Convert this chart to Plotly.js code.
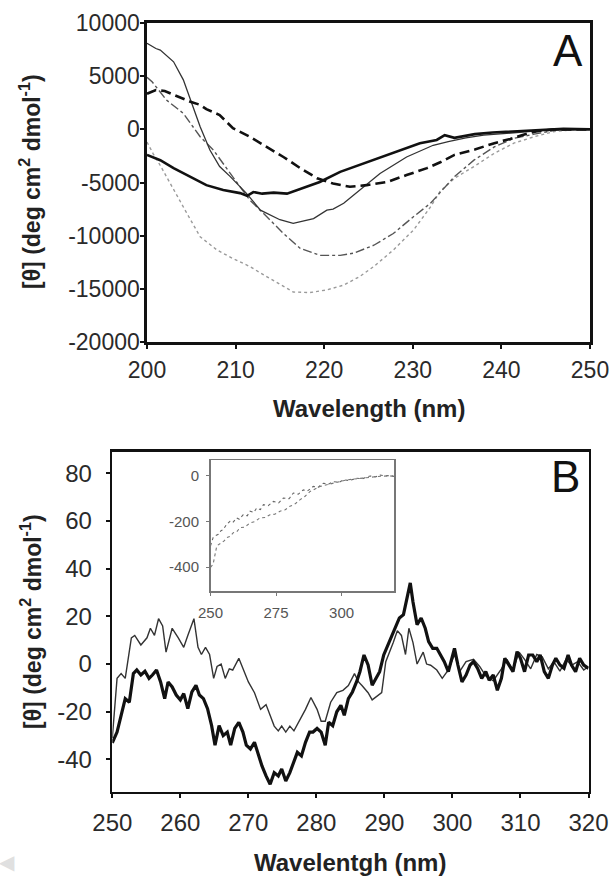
<!DOCTYPE html>
<html>
<head>
<meta charset="utf-8">
<script src="https://cdn.plot.ly/plotly-3.0.1.min.js"></script>
<style>html,body{margin:0;padding:0;background:#fff;}#chart{width:613px;height:878px;}</style>
</head>
<body>
<div id="chart"></div>
<script>
// ---------- Panel A data: [wavelength (nm), [theta]] ----------
const aThin = [[200,8100],[201,7600],[201.5,7450],[203,6350],[204.1,4650],[204.9,2750],[206,250],[207.1,-1950],[208.2,-3500],[209.4,-4450],[211.2,-6000],[212.8,-7600],[215,-8500],[216.5,-8850],[217.5,-8650],[218.8,-8400],[220.3,-7600],[221,-7500],[222.2,-6950],[224,-5700],[226.3,-4150],[229.3,-2600],[232.3,-1500],[234,-1150],[236,-800],[238,-550],[241.4,-350],[244,-150],[247,-50],[250,0]];
const aThick = [[200,-2400],[201.5,-2900],[203,-3650],[204.9,-4450],[206.7,-5250],[208.6,-5700],[210.5,-6000],[211.3,-6250],[212,-5900],[213,-6050],[214.3,-5950],[215.8,-6050],[217.6,-5550],[219.5,-4950],[221.8,-4000],[224,-3350],[226.3,-2600],[228.6,-1950],[230.8,-1300],[232.7,-1000],[233.6,-550],[234.7,-800],[237,-450],[239,-300],[241,-200],[243,-100],[245,0],[247,50],[250,0]];
const aDash = [[200,3350],[201,3700],[202,3600],[203,3250],[204.9,2600],[206,2300],[206.7,1900],[208.2,1350],[209.7,100],[211.6,-700],[213.5,-1650],[215.4,-2600],[217.3,-3650],[219.2,-4600],[221,-5100],[222.9,-5400],[224.8,-5250],[227.1,-4950],[229.3,-4300],[231.6,-3650],[233.1,-3100],[234.7,-2400],[237,-1900],[239.2,-1300],[241,-900],[242.3,-550],[243.9,-200],[246,0],[250,0]];
const aDashDot = [[200,4900],[200.6,4450],[202.2,2750],[204.1,1500],[206,-700],[207.5,-1950],[209.4,-4150],[211.6,-6650],[213.5,-8200],[215.4,-9800],[217.3,-11200],[219.5,-11850],[221.8,-11850],[223.3,-11650],[225.6,-10900],[227.8,-9800],[230.1,-8200],[232,-6950],[234.7,-4450],[236.9,-2900],[239.2,-1650],[241.4,-850],[243.7,-450],[246,-100],[250,0]];
const aDot = [[200,-1200],[200.7,-2300],[201.5,-3400],[203,-5700],[204.5,-7900],[206,-10100],[207.9,-11350],[209.7,-12150],[211.6,-12900],[213.5,-13850],[215.4,-14800],[216.5,-15300],[218.4,-15350],[220.3,-15100],[222.2,-14650],[224,-13850],[225.6,-12900],[227.8,-11350],[230.1,-9450],[232,-7300],[233.1,-5800],[234.7,-4600],[236.9,-3500],[239.2,-2250],[241.4,-1300],[243.7,-700],[246,-200],[248,-50],[250,0]];

// ---------- Panel B data ----------
const bThin = [[250,-31],[250.7,-6],[251.3,-4],[251.9,-6],[252.8,11],[253.3,12],[254.2,8],[255.1,11],[255.6,15],[256.2,12],[256.8,19],[257.4,16],[257.9,5],[258.8,15],[259.7,11],[260.5,7],[261.1,12],[262,19],[262.6,7],[263.1,4],[263.7,7],[264.3,4],[264.9,-6],[265.4,-1],[266,0],[266.6,-6],[267.2,-2],[267.7,-2.5],[268.6,2.4],[269.2,-2],[270,-7.5],[270.9,-12],[271.8,-19],[272.6,-17],[273.2,-21.5],[273.8,-26],[274.4,-28],[274.9,-26],[275.5,-28.5],[276.1,-26],[276.7,-28],[277.5,-24],[278.4,-19],[279.2,-14],[280.1,-19],[280.7,-24],[281.3,-24],[282.1,-16],[283,-12],[283.9,-11],[284.7,-9],[285.6,-4],[286.2,-7.5],[286.7,-9],[287.6,-12],[288.2,-15],[288.7,-14],[289.6,-12],[290.2,1],[290.8,5],[291.3,9],[291.9,14],[292.5,12],[293.1,4],[293.6,15],[294.2,9],[294.8,0],[295.7,5],[296.2,0],[296.8,-0.5],[297.7,-2.5],[298.5,-6],[299.4,-2.5],[300.3,4],[301.1,-3],[302,1],[303.1,2],[304,-1],[304.9,-5],[306,-7],[307.2,-2],[308,2],[308.9,-2.5],[309.8,5],[310.6,2],[311.5,-2],[312.4,4],[313.2,3],[314.1,-2],[314.9,1],[315.8,-3],[316.7,2],[317.5,-0.5],[318.4,1],[319.3,-2.5],[320,-1]];
const bThick = [[250,-33],[250.7,-28.5],[251.3,-21.5],[251.9,-14.5],[252.5,-16],[253.1,-4],[253.6,-2.5],[254.2,-4.6],[254.8,-3],[255.4,-6],[255.9,-4.6],[256.5,-2.5],[257.1,-7.5],[257.7,-14.5],[258.2,-7.5],[258.8,-9.6],[259.4,-13],[260,-15],[260.5,-12.4],[261.1,-18.7],[261.7,-11.7],[262.3,-8.9],[262.8,-13],[263.4,-14.5],[264,-18.7],[264.6,-25.8],[265.1,-34],[265.7,-25.8],[266.3,-30],[266.9,-28.5],[267.4,-34],[268,-27],[268.6,-24.4],[269.2,-28.5],[269.7,-34],[270.3,-35.6],[270.9,-32.8],[271.5,-38.5],[272,-42.7],[272.6,-46.9],[273.2,-50.4],[273.8,-45.5],[274.4,-46.9],[274.9,-44],[275.5,-49],[276.1,-45.5],[276.7,-41.3],[277.2,-37],[277.8,-38.5],[278.4,-32.8],[279,-28.5],[279.5,-28.5],[280.1,-27],[280.7,-28.5],[281.3,-34],[281.8,-24.4],[282.4,-25.8],[283,-20],[283.6,-17.3],[284.1,-21.5],[284.7,-14.5],[285.3,-11.7],[285.9,-7.5],[286.4,-3.2],[287,3.8],[287.6,-0.4],[288.2,-8.9],[288.7,-6],[289.3,-3.2],[289.9,3.8],[290.5,8],[291,10.8],[291.6,15],[292.2,19.3],[292.8,20.7],[293.4,29],[293.8,34],[294.2,26],[294.8,16.5],[295.4,19.3],[296,15],[296.5,9.4],[297.1,6.6],[297.7,6.6],[298.2,3.8],[298.8,1],[299.4,-3.2],[300.3,6.6],[300.8,-0.4],[301.4,-7.5],[302,-4.6],[302.6,-0.4],[303.1,1],[303.7,-1.8],[304.3,-6],[304.9,-3.2],[305.4,-6.8],[306,-4.6],[306.6,-11],[307.2,-6],[307.7,2.4],[308.3,-0.4],[308.9,-3.2],[309.5,5.2],[310,2.4],[310.6,-3.2],[311.2,3.8],[311.8,3.8],[312.4,1],[312.9,3.8],[313.5,-3.2],[314.1,-6],[314.7,-0.4],[315.2,2.4],[315.8,-0.4],[316.4,-1.8],[317,3.8],[317.5,-0.4],[318.1,-3.2],[318.7,2.4],[319.3,-0.4],[320,-1.8]];

// ---------- Inset data ----------
const insetUpper = [[250,-307],[251,-271],[252,-262],[253,-256],[254,-240],[254.9,-235],[256,-215],[257.4,-199],[258.5,-205],[260,-184],[261,-190],[262.5,-170],[264,-175],[265.1,-155],[266.5,-160],[267.6,-141],[269,-148],[270.2,-126],[272,-130],[274,-112],[276,-118],[277.8,-97],[280,-100],[281.6,-75],[283.5,-80],[285.4,-61],[287,-66],[289.2,-46],[291,-50],[293,-32],[295,-36],[296.9,-25],[299,-28],[300.7,-17],[303,-20],[305.8,-10],[308,-12],[310.9,0],[313,-4],[314.7,4],[316.5,0],[318.5,2],[320,-2]];
const insetLower = [[250,-401],[251,-387],[252.4,-307],[253.2,-300],[254.2,-293],[255.2,-285],[256.2,-271],[257.5,-265],[258.7,-249],[260,-245],[261.3,-227],[263,-225],[265.1,-206],[267,-200],[268.9,-184],[271,-182],[272.7,-170],[274.5,-168],[276.5,-155],[278.5,-148],[280.3,-133],[282,-125],[284.2,-104],[286,-90],[288,-68],[290,-58],[291.8,-46],[294,-40],[296.9,-32],[299,-25],[302,-17],[304.5,-14],[307.1,-10],[310,-6],[312.2,-3],[315,-1],[318.5,0],[320,-1]];

// ---------- Tick labels ----------
const aXTicks = [200, 210, 220, 230, 240, 250];
const aYTicks = [10000, 5000, 0, -5000, -10000, -15000, -20000];
const aYLabels = ['10000', '5000', '0', '-5000', '-10000', '-15000', '-20000'];
const bXTicks = [250, 260, 270, 280, 290, 300, 310, 320];
const bYTicks = [80, 60, 40, 20, 0, -20, -40];
const bYLabels = ['80', '60', '40', '20', '0', '-20', '-40'];
const inXTicks = [250, 275, 300];
const inYTicks = [0, -200, -400];
const inYLabels = ['0', '-200', '-400'];

const W = 613, H = 878;
const xd = (a, b) => [a / W, b / W];
const yd = (top, bot) => [1 - bot / H, 1 - top / H];
const xs = p => p.map(d => d[0]);
const ys = p => p.map(d => d[1]);

function tr(pts, xa, ya, color, width, dash) {
  return {x: xs(pts), y: ys(pts), xaxis: xa, yaxis: ya, type: 'scatter', mode: 'lines',
          line: {color: color, width: width, dash: dash || 'solid', shape: 'linear'}, hoverinfo: 'skip'};
}

const data = [
  tr(aDot, 'x', 'y', '#9a9a9a', 1.4, 'dot'),
  tr(aDashDot, 'x', 'y', '#555555', 1.4, 'dashdot'),
  tr(aThin, 'x', 'y', '#333333', 1.3),
  tr(aDash, 'x', 'y', '#111111', 2.6, '10px,5px'),
  tr(aThick, 'x', 'y', '#111111', 2.6),
  tr(bThin, 'x2', 'y2', '#333333', 1.4),
  tr(bThick, 'x2', 'y2', '#111111', 3.2),
  tr(insetUpper, 'x3', 'y3', '#666666', 1.1, 'dot'),
  tr(insetLower, 'x3', 'y3', '#777777', 1.1, 'dot')
];

const tickFontA = {family: 'Liberation Sans, Arial, sans-serif', size: 23, color: '#2a2a2a'};
const tickFontB = {family: 'Liberation Sans, Arial, sans-serif', size: 24, color: '#2a2a2a'};
const common = {showline: true, mirror: true, linewidth: 2.6, linecolor: '#111', showgrid: false,
                zeroline: false, ticks: 'outside', ticklen: 4, tickwidth: 2, tickcolor: '#111', fixedrange: true};

const layout = {
  width: W, height: H, margin: {l: 0, r: 0, t: 0, b: 0},
  paper_bgcolor: '#fff', plot_bgcolor: '#fff', showlegend: false,
  font: {family: 'Liberation Sans, Arial, sans-serif', color: '#222'},
  xaxis: Object.assign({}, common, {domain: xd(147, 590), anchor: 'y', range: [200, 250],
    tickmode: 'array', tickvals: aXTicks, tickfont: tickFontA, ticklabelstandoff: 2}),
  yaxis: Object.assign({}, common, {domain: yd(23, 342), anchor: 'x', range: [-20000, 10000],
    tickmode: 'array', tickvals: aYTicks, ticktext: aYLabels, tickfont: tickFontA, ticklabelstandoff: -4}),
  xaxis2: Object.assign({}, common, {domain: xd(112.3, 588.5), anchor: 'y2', range: [250, 320],
    tickmode: 'array', tickvals: bXTicks, tickfont: tickFontB, ticklabelstandoff: 4}),
  yaxis2: Object.assign({}, common, {domain: yd(451.7, 791.7), anchor: 'x2', range: [-53.5, 89],
    tickmode: 'array', tickvals: bYTicks, ticktext: bYLabels, tickfont: tickFontB, ticklabelstandoff: 9}),
  xaxis3: {domain: xd(210.5, 394), anchor: 'y3', range: [250, 320], showline: true, mirror: true,
    linewidth: 1.5, linecolor: '#777', showgrid: false, zeroline: false, ticks: 'outside', ticklen: 3,
    tickwidth: 1, tickcolor: '#777', tickmode: 'array', tickvals: inXTicks, fixedrange: true,
    tickfont: {family: 'Liberation Sans, Arial, sans-serif', size: 15, color: '#555'}, ticklabelstandoff: 4},
  yaxis3: {domain: yd(460, 591), anchor: 'x3', range: [-505, 70], showline: true, mirror: true,
    linewidth: 1.5, linecolor: '#777', showgrid: false, zeroline: false, ticks: 'outside', ticklen: 3,
    tickwidth: 1, tickcolor: '#777', tickmode: 'array', tickvals: inYTicks, ticktext: inYLabels, fixedrange: true,
    tickfont: {family: 'Liberation Sans, Arial, sans-serif', size: 15, color: '#555'}, ticklabelstandoff: 4},
  annotations: [
    {text: 'A', xref: 'paper', yref: 'paper', x: 568 / W, y: 1 - 50 / H, showarrow: false,
     xanchor: 'center', yanchor: 'middle', font: {size: 44, color: '#111'}},
    {text: 'B', xref: 'paper', yref: 'paper', x: 565 / W, y: 1 - 477 / H, showarrow: false,
     xanchor: 'center', yanchor: 'middle', font: {size: 44, color: '#111'}},
    {text: '<b>Wavelength (nm)</b>', xref: 'paper', yref: 'paper', x: 369 / W, y: 1 - 408 / H,
     showarrow: false, xanchor: 'center', yanchor: 'middle', font: {size: 24, color: '#222'}},
    {text: '<b>Wavelentgh (nm)</b>', xref: 'paper', yref: 'paper', x: 350 / W, y: 1 - 862 / H,
     showarrow: false, xanchor: 'center', yanchor: 'middle', font: {size: 24, color: '#222'}},
    {text: '<b>[θ] (deg cm<sup>2</sup> dmol<sup>-1</sup>)</b>', xref: 'paper', yref: 'paper', x: 30 / W, y: 1 - 182 / H,
     showarrow: false, textangle: -90, xanchor: 'center', yanchor: 'middle', font: {size: 23, color: '#222'}},
    {text: '<b>[θ] (deg cm<sup>2</sup> dmol<sup>-1</sup>)</b>', xref: 'paper', yref: 'paper', x: 31 / W, y: 1 - 622 / H,
     showarrow: false, textangle: -90, xanchor: 'center', yanchor: 'middle', font: {size: 23, color: '#222'}},
    {text: '◀', xref: 'paper', yref: 'paper', x: 7 / W, y: 1 - 862 / H, showarrow: false,
     xanchor: 'center', yanchor: 'middle', font: {size: 20, color: '#e0e0e0'}}
  ]
};

Plotly.newPlot('chart', data, layout, {staticPlot: true, displayModeBar: false});
</script>
</body>
</html>
